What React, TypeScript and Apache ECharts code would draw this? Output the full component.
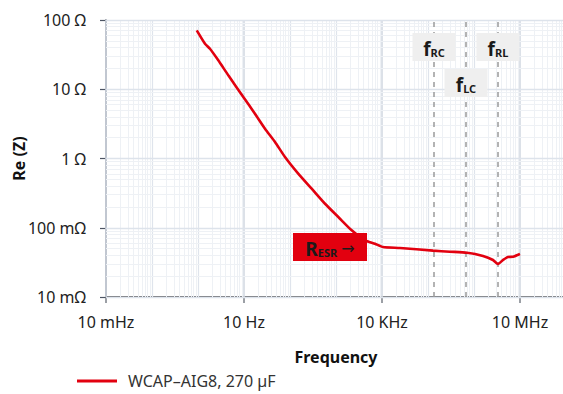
import React, { useEffect, useRef } from 'react';
import * as echarts from 'echarts';

// Measured series (Hz, Ohm)
const frequencyHz = [0.94, 1.42, 1.82, 2.76, 4.56, 9.66, 17.3, 28.6, 47.2, 77.8, 151, 296, 577, 1122, 2193, 4266, 7047, 10520, 24600, 128500, 300000, 704000, 1570000, 2590000, 3320000, 4270000, 5480000, 7050000, 10000000];
const reZOhm = [71, 45.5, 38.5, 26.2, 15.9, 7.73, 4.43, 2.69, 1.73, 1.05, 0.604, 0.366, 0.222, 0.143, 0.0918, 0.0659, 0.0589, 0.0527, 0.051, 0.0467, 0.0451, 0.0436, 0.0391, 0.0342, 0.03, 0.0342, 0.0378, 0.0381, 0.0418];
const seriesName = 'WCAP\u2013AIG8, 270 \u00b5F';

// Characteristic frequencies
const markerNames = ['RC', 'LC', 'RL'];
const markerFreqHz = [135000, 670000, 3320000];
const markerBoxOhm = [40.7, 12.3, 40.7];

// Axis ticks
const xTickValues = [0.01, 10, 10000, 10000000];
const xTickLabels = ['10 mHz', '10 Hz', '10 KHz', '10 MHz'];
const yTickValues = [0.01, 0.1, 1, 10, 100];
const yTickLabels = ['10 m\u03a9', '100 m\u03a9', '1 \u03a9', '10 \u03a9', '100 \u03a9'];

const xDecades = [-2, -1, 0, 1, 2, 3, 4, 5, 6, 7];
const yDecades = [-2, -1, 0, 1];
const multipliers = [1, 2, 3, 4, 5, 6, 7, 8, 9];

const FONT = 'Noto Sans';

export default function App() {
  const ref = useRef<HTMLDivElement>(null);
  useEffect(() => {
    document.body.style.margin = '0';
    if (!ref.current) return;
    const chart = echarts.init(ref.current, null, { renderer: 'svg' });

    const gridLines: any[] = [];
    xDecades.forEach((d) => {
      multipliers.forEach((m) => {
        const v = m * Math.pow(10, d);
        const major = m === 1;
        const labeled = major && xTickValues.some((t) => Math.abs(Math.log10(t) - d) < 1e-9);
        gridLines.push({
          xAxis: v,
          lineStyle: {
            color: labeled ? '#d4dae3' : major ? '#dfe4ec' : '#eef1f5',
            width: labeled ? 1.6 : major ? 1.2 : 1,
            type: 'solid',
          },
        });
      });
    });
    gridLines.push({ xAxis: 1e8, lineStyle: { color: '#dfe4ec', width: 1.2, type: 'solid' } });
    yDecades.forEach((d) => {
      multipliers.forEach((m) => {
        const v = m * Math.pow(10, d);
        const major = m === 1;
        gridLines.push({
          yAxis: v,
          lineStyle: { color: major ? '#dde3eb' : '#eef1f5', width: major ? 1.4 : 1, type: 'solid' },
        });
      });
    });
    gridLines.push({ yAxis: 100, lineStyle: { color: '#dde3eb', width: 1.4, type: 'solid' } });

    const option: any = {
      animation: false,
      textStyle: { fontFamily: FONT },
      grid: { left: 106, top: 20, right: -3, bottom: 97, containLabel: false, outerBoundsMode: 'none' },
      xAxis: {
        type: 'log',
        logBase: 10,
        min: 0.01,
        max: 1e8,
        axisLine: { show: true, onZero: false, lineStyle: { color: '#3b3f45', width: 1.5 } },
        axisTick: { show: true, customValues: xTickValues, length: 6, lineStyle: { color: '#7a7f87', width: 1.5 } },
        axisLabel: {
          show: true,
          customValues: xTickValues,
          margin: 17,
          color: '#222',
          fontSize: 16,
          fontFamily: FONT,
          formatter: (v: number) => {
            const i = xTickValues.findIndex((t) => Math.abs(t - v) / t < 1e-6);
            return i >= 0 ? xTickLabels[i] : '';
          },
        },
        splitLine: { show: false },
        minorTick: { show: false },
        minorSplitLine: { show: false },
      },
      yAxis: {
        type: 'log',
        logBase: 10,
        min: 0.01,
        max: 100,
        name: 'Re (Z)',
        nameLocation: 'middle',
        nameGap: 79,
        nameMoveOverlap: false,
        nameTextStyle: { fontFamily: FONT, fontSize: 16, fontWeight: 'bold', color: '#111' },
        axisLine: { show: true, onZero: false, lineStyle: { color: '#4d5564', width: 1.5 } },
        axisTick: { show: true, customValues: yTickValues, length: 6, lineStyle: { color: '#4d5564', width: 1.2 } },
        axisLabel: {
          show: true,
          customValues: yTickValues,
          margin: 20,
          color: '#222',
          fontSize: 16,
          fontFamily: FONT,
          formatter: (v: number) => {
            const i = yTickValues.findIndex((t) => Math.abs(t - v) / t < 1e-6);
            return i >= 0 ? yTickLabels[i] : '';
          },
        },
        splitLine: { show: false },
        minorTick: { show: false },
      },
      legend: {
        data: [seriesName],
        left: 77,
        top: 373,
        padding: 0,
        icon: 'rect',
        itemWidth: 40,
        itemHeight: 3,
        textStyle: { fontFamily: FONT, fontSize: 16, color: '#333', padding: [0, 0, 0, 6] },
      },
      graphic: [
        {
          type: 'text',
          x: 336,
          y: 357,
          style: {
            text: 'Frequency',
            fontFamily: FONT,
            fontSize: 16,
            fontWeight: 'bold',
            fill: '#111',
            align: 'center',
            verticalAlign: 'middle',
          },
          z: 10,
        },
        {
          type: 'rect',
          shape: { x: 293, y: 233, width: 74, height: 28 },
          style: { fill: '#e2000f' },
          z: 10,
        },
        {
          type: 'text',
          x: 330,
          y: 247,
          style: {
            text: '{r|R}{s|ESR}{a|\u2192}',
            align: 'center',
            verticalAlign: 'middle',
            rich: {
              r: { fontFamily: FONT, fontSize: 19, fontWeight: 'bold', fill: '#1a1a1a', lineHeight: 22, verticalAlign: 'bottom' },
              s: { fontFamily: FONT, fontSize: 11, fontWeight: 'bold', fill: '#1a1a1a', lineHeight: 22, verticalAlign: 'bottom', padding: [7, 0, 0, 0] },
              a: { fontFamily: 'DejaVu Sans', fontSize: 16, fill: '#1a1a1a', lineHeight: 22, verticalAlign: 'bottom', padding: [0, 0, 2, 4] },
            },
          },
          z: 11,
        },
      ],
      series: [
        {
          type: 'line',
          name: 'grid',
          data: [],
          silent: true,
          z: 1,
          markLine: {
            silent: true,
            z: 1,
            symbol: ['none', 'none'],
            label: { show: false },
            animation: false,
            data: gridLines,
          },
        },
        {
          type: 'line',
          name: 'markers',
          data: [],
          silent: true,
          z: 2,
          markLine: {
            silent: true,
            z: 2,
            symbol: ['none', 'none'],
            label: { show: false },
            animation: false,
            lineStyle: { color: '#9a9a9a', width: 1.5, type: [5, 5] },
            data: markerFreqHz.map((f) => ({ xAxis: f })),
          },
        },
        {
          type: 'line',
          name: seriesName,
          data: frequencyHz.map((f, i) => [f, reZOhm[i]]),
          showSymbol: false,
          symbol: 'none',
          smooth: 0.2,
          color: '#e2000f',
          lineStyle: { color: '#e2000f', width: 2.6 },
          z: 3,
        },
        {
          type: 'line',
          name: 'markerBoxes',
          data: [],
          silent: true,
          z: 4,
          markPoint: {
            silent: true,
            z: 6,
            animation: false,
            data: markerNames.map((n, i) => ({
              coord: [markerFreqHz[i], markerBoxOhm[i]],
              symbol: 'rect',
              symbolSize: [43, 28],
              itemStyle: { color: '#efefef' },
              label: {
                show: true,
                position: 'inside',
                formatter: '{f|f}{s|' + n + '}',
                rich: {
                  f: { fontFamily: FONT, fontSize: 19, fontWeight: 'bold', color: '#1a1a1a', lineHeight: 22, verticalAlign: 'bottom' },
                  s: { fontFamily: FONT, fontSize: 11, fontWeight: 'bold', color: '#1a1a1a', lineHeight: 22, verticalAlign: 'bottom', padding: [7, 0, 0, 0] },
                },
              },
            })),
          },
        },
      ],
    };
    chart.setOption(option);
    return () => chart.dispose();
  }, []);
  return <div ref={ref} style={{ width: 563, height: 394 }} />;
}
